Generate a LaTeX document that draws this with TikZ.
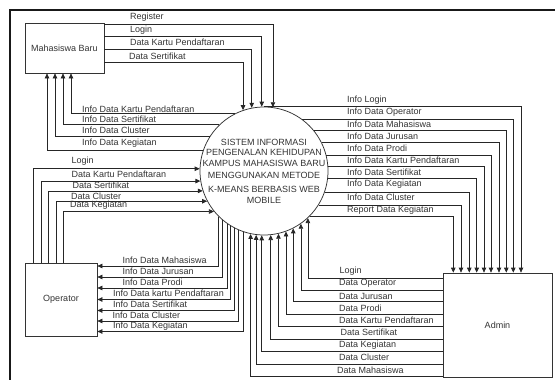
\documentclass[tikz,border=0pt]{standalone}
\usepackage{fontspec}
\setmainfont{Liberation Sans}
\usetikzlibrary{arrows.meta}
\begin{document}
\begin{tikzpicture}[x=1pt,y=-1pt,
  txt/.style={font=\fontsize{9}{10}\selectfont, text=black!80},
  box/.style={draw=black!80, line width=0.75pt, inner sep=0pt, txt},
  ln/.style={draw=black!85, line width=0.75pt},
  arr/.style={ln, -{Triangle[length=5pt,width=4.5pt]}},
  lab/.style={txt, anchor=west, inner sep=0pt},
  frame/.style={draw=black!90, line width=1.8pt}]
\useasboundingbox (0,0) rectangle (555,380);
% frame
\coordinate (f1) at (555,10);
\coordinate (f2) at (10,10);
\coordinate (f3) at (10,380);
\draw[frame] (f1) -- (f2) -- (f3);
% nodes
\node[box, minimum width=79, minimum height=50] (mb) at (64.5,48) {Mahasiswa Baru};
\node[box, minimum width=72, minimum height=73] (op) at (61,299.5) {Operator};
\node[box, minimum width=109, minimum height=104] (ad) at (497.5,325) {Admin};
\node[circle, draw=black!80, line width=0.75pt, minimum size=128, inner sep=0pt] (c) at (264,171) {};
\node[txt, align=center, inner sep=0pt] (ct) at (264,171.5) {SISTEM INFORMASI\\ PENGENALAN KEHIDUPAN\\[0.7pt] KAMPUS MAHASISWA BARU\\[2pt] MENGGUNAKAN METODE\\[4pt] K-MEANS BERBASIS WEB\\[0.7pt] MOBILE};
% Mahasiswa Baru -> system
\draw[arr] (mb.east |- 0,24.5) -| (c.82);
\draw[arr] (mb.east |- 0,36.5) -| (c.92);
\draw[arr] (mb.east |- 0,49.3) -| (c.101);
\draw[arr] (mb.east |- 0,62.3) -| (c.109);
\node[lab] (l1) at (130,16.7) {Register};
\node[lab] (l2) at (130,30) {Login};
\node[lab] (l3) at (130,42.5) {Data Kartu Pendaftaran};
\node[lab] (l4) at (129,56.5) {Data Sertifikat};
% system -> Mahasiswa Baru
\draw[arr] (c.117) -| (mb.south -| 71,0);
\draw[arr] (c.134) -| (mb.south -| 63,0);
\draw[arr] (c.147) -| (mb.south -| 55,0);
\draw[arr] (c.161) -| (mb.south -| 47,0);
\node[lab] (l5) at (82,109) {Info Data Kartu Pendaftaran};
\node[lab] (l6) at (82,119.5) {Info Data Sertifikat};
\node[lab] (l7) at (82,130.5) {Info Data Cluster};
\node[lab] (l8) at (82,143) {Info Data Kegiatan};
% Operator -> system
\draw[arr] (op.north -| 33,0) |- (c.178);
\draw[arr] (op.north -| 41,0) |- (c.189);
\draw[arr] (op.north -| 48,0) |- (c.198);
\draw[arr] (op.north -| 56,0) |- (c.208);
\draw[arr] (op.north -| 63,0) |- (c.219);
\node[lab] (l9) at (71.5,161.5) {Login};
\node[lab] (l10) at (71.5,174) {Data Kartu Pendaftaran};
\node[lab] (l11) at (72.5,185.5) {Data Sertifikat};
\node[lab] (l12) at (71,196.5) {Data Cluster};
\node[lab] (l13) at (70,205.5) {Data Kegiatan};
% system -> Operator
\draw[arr] (c.225) |- (op.east |- 0,266);
\draw[arr] (c.230) |- (op.east |- 0,277);
\draw[arr] (c.235) |- (op.east |- 0,288);
\draw[arr] (c.239) |- (op.east |- 0,299.5);
\draw[arr] (c.243) |- (op.east |- 0,310.5);
\draw[arr] (c.247) |- (op.east |- 0,321);
\draw[arr] (c.251) |- (op.east |- 0,331.5);
\node[lab] (l14) at (122.5,260.5) {Info Data Mahasiswa};
\node[lab] (l15) at (122.5,271.5) {Info Data Jurusan};
\node[lab] (l16) at (122.5,282.5) {Info Data Prodi};
\node[lab] (l17) at (113,293.5) {Info Data kartu Pendaftaran};
\node[lab] (l18) at (113,304.5) {Info Data Sertifikat};
\node[lab] (l19) at (112.5,315.5) {Info Data Cluster};
\node[lab] (l20) at (113,326) {Info Data Kegiatan};
% system -> Admin
\draw[arr] (c.north) -| (ad.north -| 521,0);
\draw[arr] (c.54) -| (ad.north -| 513.3,0);
\draw[arr] (c.39) -| (ad.north -| 506.3,0);
\draw[arr] (c.26) -| (ad.north -| 499,0);
\draw[arr] (c.14) -| (ad.north -| 491,0);
\draw[arr] (c.4) -| (ad.north -| 484,0);
\draw[arr] (c.353) -| (ad.north -| 476.7,0);
\draw[arr] (c.341) -| (ad.north -| 469.3,0);
\draw[arr] (c.328) -| (ad.north -| 461,0);
\draw[arr] (c.315) -| (ad.north -| 453.3,0);
\node[lab] (l21) at (347,100) {Info Login};
\node[lab] (l22) at (347,111.7) {Info Data Operator};
\node[lab] (l23) at (347,124.5) {Info Data Mahasiswa};
\node[lab] (l24) at (347,136) {Info Data Jurusan};
\node[lab] (l25) at (347,148.5) {Info Data Prodi};
\node[lab] (l26) at (347,160.5) {Info Data Kartu Pendaftaran};
\node[lab] (l27) at (347,172.5) {Info Data Sertifikat};
\node[lab] (l28) at (347,184.5) {Info Data Kegiatan};
\node[lab] (l29) at (347,197) {Info Data Cluster};
\node[lab] (l30) at (347,210) {Report Data Kegiatan};
% Admin -> system
\draw[arr] (ad.west |- 0,278.3) -| (c.313);
\draw[arr] (ad.west |- 0,290) -| (c.305);
\draw[arr] (ad.west |- 0,301.7) -| (c.297);
\draw[arr] (ad.west |- 0,314) -| (c.290);
\draw[arr] (ad.west |- 0,326.7) -| (c.283);
\draw[arr] (ad.west |- 0,339) -| (c.276);
\draw[arr] (ad.west |- 0,351.7) -| (c.268);
\draw[arr] (ad.west |- 0,364.3) -| (c.263);
\draw[arr] (ad.west |- 0,376.5) -| (c.258);
\node[lab] (l31) at (339.5,271.5) {Login};
\node[lab] (l32) at (339,283.3) {Data Operator};
\node[lab] (l33) at (339,296) {Data Jurusan};
\node[lab] (l34) at (339,308.5) {Data Prodi};
\node[lab] (l35) at (339,320.7) {Data Kartu Pendaftaran};
\node[lab] (l36) at (340.5,332.3) {Data Sertifikat};
\node[lab] (l37) at (339,345) {Data Kegiatan};
\node[lab] (l38) at (339,357.3) {Data Cluster};
\node[lab] (l39) at (337,370) {Data Mahasiswa};
\end{tikzpicture}
\end{document}
